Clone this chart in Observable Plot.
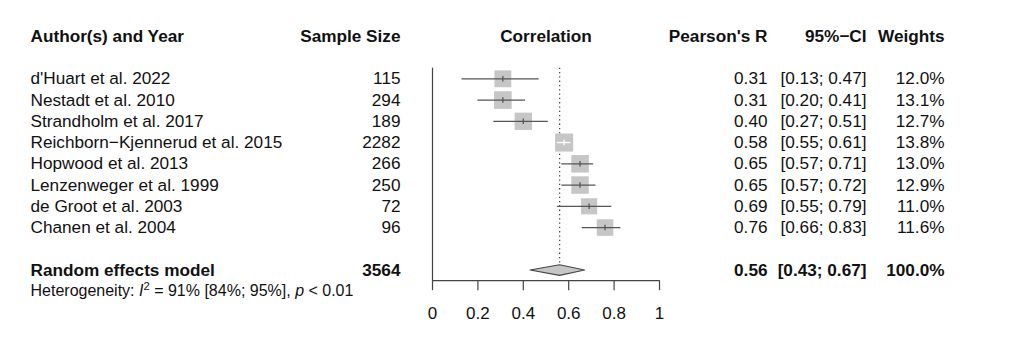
<!DOCTYPE html>
<html>
<head>
<meta charset="utf-8">
<script src="https://cdn.jsdelivr.net/npm/d3@7"></script>
<script src="https://cdn.jsdelivr.net/npm/@observablehq/plot@0.6"></script>
<style>
  html, body { margin: 0; padding: 0; background: #fff; }
  #chart svg { display: block; }
</style>
</head>
<body>
<div id="chart"></div>
<script>
// ---- data ----
const authors = [
  "d'Huart et al. 2022",
  "Nestadt et al. 2010",
  "Strandholm et al. 2017",
  "Reichborn\u2212Kjennerud et al. 2015",
  "Hopwood et al. 2013",
  "Lenzenweger et al. 1999",
  "de Groot et al. 2003",
  "Chanen et al. 2004"
];
const sampleSize = [115, 294, 189, 2282, 266, 250, 72, 96];
const pearsonR   = [0.31, 0.31, 0.40, 0.58, 0.65, 0.65, 0.69, 0.76];
const ciLower    = [0.13, 0.20, 0.27, 0.55, 0.57, 0.57, 0.55, 0.66];
const ciUpper    = [0.47, 0.41, 0.51, 0.61, 0.71, 0.72, 0.79, 0.83];
const weights    = [12.0, 13.1, 12.7, 13.8, 13.0, 12.9, 11.0, 11.6];

const pooledLabel = "Random effects model";
const pooledN = 3564;
const pooledR = 0.56;
const pooledLo = 0.43;
const pooledHi = 0.67;
const pooledW = 100.0;

const headerLabels = ["Author(s) and Year", "Sample Size", "Correlation", "Pearson's R", "95%\u2212CI", "Weights"];
const xTicks = [0, 0.2, 0.4, 0.6, 0.8, 1];
const hetParts = [
  {t: "Heterogeneity: "},
  {t: "I", italic: true},
  {t: "2", sup: true},
  {t: " = 91% [84%; 95%], "},
  {t: "p", italic: true},
  {t: " < 0.01"}
];

// ---- layout ----
const W = 1024, H = 337;
const X0 = 432, X1 = 659;
const rowH = 21.25, row1Y = 78.3;
const rMax = 10.2;
const fontMain = "17.2px";
const lineColor = "#444";
const squareFill = "#c6c6c6";
const ciColor = "#555";

const fmt2 = v => v.toFixed(2);
const rows = authors.map((a, i) => ({
  author: a, n: String(sampleSize[i]), r: pearsonR[i], lo: ciLower[i], hi: ciUpper[i], w: weights[i], row: i + 1,
  rTxt: fmt2(pearsonR[i]), ciTxt: `[${fmt2(ciLower[i])}; ${fmt2(ciUpper[i])}]`, wTxt: weights[i].toFixed(1) + "%"
}));
const pooledRow = 10, hetRow = 11, headerRow = -1;
const pooled = [{author: pooledLabel, n: String(pooledN), rTxt: fmt2(pooledR),
  ciTxt: `[${fmt2(pooledLo)}; ${fmt2(pooledHi)}]`, wTxt: pooledW.toFixed(1) + "%", row: pooledRow}];

const sidePx = w => Math.sqrt(w / 13.8) * rMax * Math.sqrt(Math.PI);
const ciStroke = d => ((d.hi - d.lo) * (X1 - X0) < sidePx(d.w) ? "white" : ciColor);

const dh = 0.25;
const diamond = [
  {x: pooledLo, y: pooledRow}, {x: pooledR, y: pooledRow - dh},
  {x: pooledHi, y: pooledRow}, {x: pooledR, y: pooledRow + dh}, {x: pooledLo, y: pooledRow}
];

const vTick = {draw(ctx, size) { const h = Math.sqrt(size) / 2; ctx.moveTo(0, -h); ctx.lineTo(0, h); }};

const headers = [
  {t: headerLabels[0], dx: 30, anchor: "start"},
  {t: headerLabels[1], dx: 400, anchor: "end"},
  {t: headerLabels[3], dx: 767, anchor: "end"},
  {t: headerLabels[4], dx: 866, anchor: "end"},
  {t: headerLabels[5], dx: 944, anchor: "end"}
];

const colMarks = (data, weight) => [
  Plot.text(data, {frameAnchor: "left", dx: 30, y: "row", text: "author", textAnchor: "start", fontWeight: weight}),
  Plot.text(data, {frameAnchor: "left", dx: 400, y: "row", text: "n", textAnchor: "end", fontWeight: weight}),
  Plot.text(data, {frameAnchor: "left", dx: 767, y: "row", text: "rTxt", textAnchor: "end", fontWeight: weight}),
  Plot.text(data, {frameAnchor: "left", dx: 866, y: "row", text: "ciTxt", textAnchor: "end", fontWeight: weight}),
  Plot.text(data, {frameAnchor: "left", dx: 944, y: "row", text: "wTxt", textAnchor: "end", fontWeight: weight})
];

const hetPlain = hetParts.map(p => p.t).join("");

const chart = Plot.plot({
  width: W, height: H,
  marginLeft: 0, marginRight: 0, marginTop: 0, marginBottom: H - (row1Y + 9.5 * rowH),
  style: {fontFamily: "'Liberation Sans', Arial, Helvetica, sans-serif", fontSize: fontMain, color: "#111", background: "#fff"},
  x: {domain: [0, 1], range: [X0, X1], axis: null},
  y: {domain: [-1, 12], range: [row1Y - 2 * rowH, row1Y + 11 * rowH], axis: null},
  r: {type: "sqrt", domain: [0, 13.8], range: [0, rMax]},
  marks: [
    // headers
    ...headers.map(h => Plot.text([h], {frameAnchor: "left", dx: h.dx, y: [headerRow], text: d => d.t, textAnchor: h.anchor, fontWeight: "bold"})),
    Plot.text([headerLabels[2]], {x: [0.5], y: [headerRow], text: d => d, fontWeight: "bold"}),
    // frame lines
    Plot.ruleX([0], {y1: 0.5, y2: 10.5, stroke: lineColor, strokeWidth: 1.2}),
    Plot.ruleY([10.5], {x1: 0, x2: 1, stroke: lineColor, strokeWidth: 1.2}),
    Plot.axisX({ticks: xTicks, anchor: "bottom", tickSize: 10, tickPadding: 16, tickFormat: d => String(d), stroke: lineColor, strokeWidth: 1.2, fontSize: 17}),
    // pooled estimate dotted line
    Plot.ruleX([pooledR], {y1: 0.5, y2: pooledRow, stroke: lineColor, strokeDasharray: "1.3,3", strokeWidth: 1.3}),
    // squares
    Plot.dot(rows, {x: "r", y: "row", r: "w", symbol: "square", fill: squareFill, stroke: "none"}),
    // CI lines
    Plot.ruleY(rows, {y: "row", x1: "lo", x2: "hi", stroke: ciStroke, strokeWidth: 1.3}),
    Plot.dot(rows, {x: "r", y: "row", r: 3.1, symbol: vTick, fill: "none", stroke: ciStroke, strokeWidth: 1.3}),
    // diamond
    Plot.line(diamond, {x: "x", y: "y", fill: squareFill, stroke: lineColor, strokeWidth: 1.1}),
    // columns
    ...colMarks(rows, "normal"),
    ...colMarks(pooled, "bold"),
    // heterogeneity
    Plot.text([hetPlain], {frameAnchor: "left", dx: 30, y: [hetRow], text: d => d, textAnchor: "start", fontSize: 16})
  ]
});

document.getElementById("chart").appendChild(chart);

// rich text for heterogeneity line
d3.select(chart).selectAll("text").filter(function () { return this.textContent === hetPlain; })
  .each(function () {
    const el = d3.select(this);
    el.text(null);
    let raised = false;
    hetParts.forEach(p => {
      const ts = el.append("tspan").text(p.t);
      if (p.italic) ts.attr("font-style", "italic");
      if (p.sup) { ts.attr("font-size", "70%").attr("dy", "-6"); raised = true; }
      else if (raised) { ts.attr("dy", "6"); raised = false; }
    });
  });
</script>
</body>
</html>
